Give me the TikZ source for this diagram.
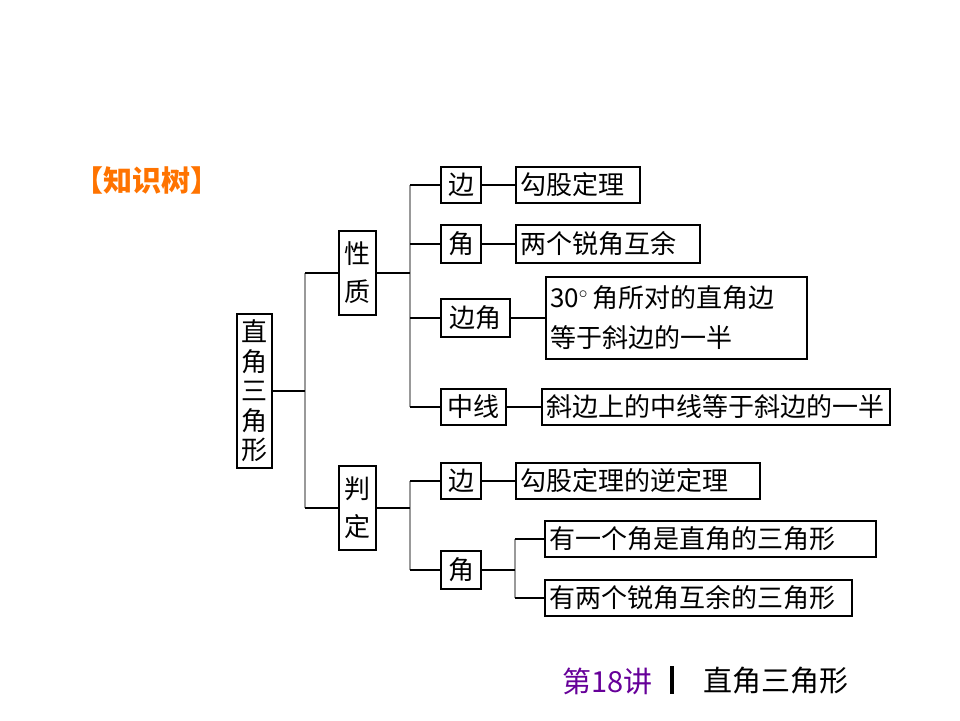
\documentclass[tikz,border=0pt]{standalone}
\usepackage{fontspec}
\newfontfamily\cjk{Noto Sans CJK SC}
\begin{document}
\begin{tikzpicture}[x=1pt,y=-1pt,
  bx/.style={draw,line width=1.4pt,inner sep=0pt,font=\cjk\fontsize{26}{30}\selectfont,align=center},
  tx/.style={bx,text width=#1,align=left,inner xsep=4pt},
  ln/.style={line width=1.6pt},
  vl/.style={line width=1.6pt,black!40}]
\useasboundingbox (0,0) rectangle (960,720);
\node[font=\cjk\bfseries\fontsize{29}{32}\selectfont,text=orange!90!red] (title) at (147,180) {【知识树】};
\node[bx,minimum width=35,minimum height=154,font=\cjk\fontsize{26}{29.5}\selectfont] (root) at (254.5,391) {直\\角\\三\\角\\形};
\node[bx,minimum width=37,minimum height=84,font=\cjk\fontsize{26}{38}\selectfont] (xz) at (357.5,273) {性\\质};
\node[bx,minimum width=37,minimum height=84,font=\cjk\fontsize{26}{38}\selectfont] (pd) at (357.5,508) {判\\定};
\node[bx,minimum width=40,minimum height=36] (b1) at (461,185) {边};
\node[tx=116pt,minimum height=36] (t1) at (578,185) {勾股定理};
\node[bx,minimum width=40,minimum height=38] (j1) at (461,244) {角};
\node[tx=176pt,minimum height=38] (t2) at (608,244) {两个锐角互余};
\node[bx,minimum width=69,minimum height=38] (bj) at (475.5,318) {边角};
\node[tx=253pt,minimum height=82,font=\cjk\fontsize{26}{40}\selectfont] (t3) at (676.5,318) {30${}^\circ$\,角所对的直角边\\等于斜边的一半};
\node[bx,minimum width=65,minimum height=36] (zx) at (473.5,407) {中线};
\node[tx=340pt,minimum height=36] (t4) at (716,407) {斜边上的中线等于斜边的一半};
\node[bx,minimum width=40,minimum height=36] (b2) at (461,481) {边};
\node[tx=236pt,minimum height=36] (t5) at (638,481) {勾股定理的逆定理};
\node[bx,minimum width=40,minimum height=38] (j2) at (461,570) {角};
\node[tx=323pt,minimum height=36] (t6) at (710.5,539) {有一个角是直角的三角形};
\node[tx=299pt,minimum height=36] (t7) at (698.5,598) {有两个锐角互余的三角形};
\coordinate (r0) at (305,391);
\coordinate (x0) at (410,273);
\coordinate (p0) at (410,508);
\coordinate (a0) at (515,570);
\draw[vl] (305,273) -- (305,508);
\draw[ln] (root.east) -- (r0);
\draw[ln] (305,273) -- (xz.west);
\draw[ln] (305,508) -- (pd.west);
\draw[vl] (410,185) -- (410,407);
\draw[ln] (xz.east) -- (x0);
\draw[ln] (410,185) -- (b1.west);
\draw[ln] (410,244) -- (j1.west);
\draw[ln] (410,318) -- (bj.west);
\draw[ln] (410,407) -- (zx.west);
\draw[ln] (b1.east) -- (t1.west);
\draw[ln] (j1.east) -- (t2.west);
\draw[ln] (bj.east) -- (t3.west);
\draw[ln] (zx.east) -- (t4.west);
\draw[vl] (410,481) -- (410,570);
\draw[ln] (pd.east) -- (p0);
\draw[ln] (410,481) -- (b2.west);
\draw[ln] (410,570) -- (j2.west);
\draw[ln] (b2.east) -- (t5.west);
\draw[vl] (515,539) -- (515,598);
\draw[ln] (j2.east) -- (a0);
\draw[ln] (515,539) -- (t6.west);
\draw[ln] (515,598) -- (t7.west);
\node[font=\cjk\fontsize{29}{32}\selectfont,text=violet!80!blue,anchor=east] (ft1) at (656,681) {第18讲};
\node[fill=black,minimum width=4,minimum height=28,inner sep=0pt] (bar) at (672,680) {};
\node[font=\cjk\fontsize{29}{32}\selectfont,anchor=west] (ft2) at (700,681) {直角三角形};
\end{tikzpicture}
\end{document}
